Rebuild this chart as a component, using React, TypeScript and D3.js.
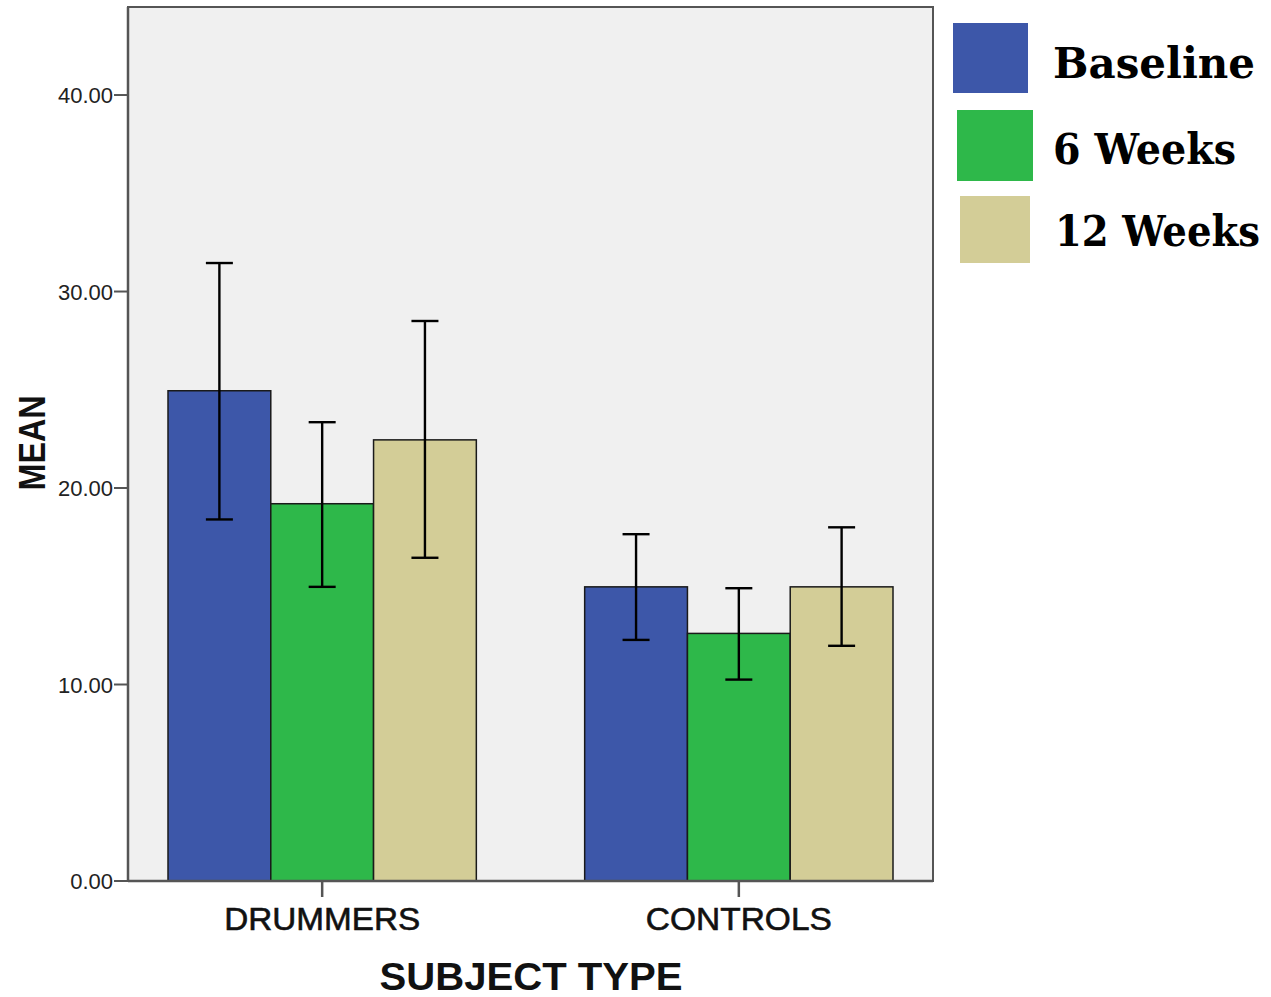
import React from "react";
import * as d3 from "d3";

const groups = ["DRUMMERS", "CONTROLS"];
const seriesNames = ["Baseline", "6 Weeks", "12 Weeks"];
const seriesColors = ["#3d57a9", "#2eb84a", "#d3cd97"];
const means = [
  [24.95, 19.2, 22.45],
  [14.97, 12.6, 14.97],
];
const upper = [
  [31.45, 23.35, 28.5],
  [17.65, 14.9, 18.0],
];
const lower = [
  [18.4, 14.97, 16.45],
  [12.27, 10.25, 11.97],
];
const yTicks = [0, 10, 20, 30, 40];

export default function App() {
  const left = 128, right = 933, top = 7, bottom = 881;
  const x0 = d3.scaleBand<string>().domain(groups).range([left, right]).paddingInner(0.26).paddingOuter(0.096);
  const x1 = d3.scaleBand<string>().domain(seriesNames).range([0, x0.bandwidth()]);
  const y = d3.scaleLinear().domain([0, 44.48]).range([bottom, top]);
  const cap = 13.5;
  const legendY = [[953, 23, 75, 70, 78], [957, 110, 76, 71, 164], [960, 196, 70, 67, 246]];
  const legendTextX = [1053, 1053, 1055];
  const legendTextLen = [202, 183, 205];
  return (
    <svg width={1271} height={997} style={{ position: "absolute", left: 0, top: 0 }} fontFamily="Arial, 'Liberation Sans', sans-serif">
      <rect x={0} y={0} width={1271} height={997} fill="#fff" />
      <rect x={left} y={top} width={right - left} height={bottom - top} fill="#f0f0f0" stroke="#555" strokeWidth={2} />
      {groups.map((g, gi) =>
        seriesNames.map((s, si) => {
          const bx = (x0(g) as number) + (x1(s) as number);
          return (
            <rect key={g + s} x={bx} y={y(means[gi][si])} width={x1.bandwidth()} height={bottom - y(means[gi][si])}
              fill={seriesColors[si]} stroke="#1a1a1a" strokeWidth={1.5} />
          );
        })
      )}
      {groups.map((g, gi) =>
        seriesNames.map((s, si) => {
          const cx = (x0(g) as number) + (x1(s) as number) + x1.bandwidth() / 2;
          return (
            <g key={"e" + g + s} stroke="#000" strokeWidth={2.4}>
              <line x1={cx} x2={cx} y1={y(upper[gi][si])} y2={y(lower[gi][si])} />
              <line x1={cx - cap} x2={cx + cap} y1={y(upper[gi][si])} y2={y(upper[gi][si])} />
              <line x1={cx - cap} x2={cx + cap} y1={y(lower[gi][si])} y2={y(lower[gi][si])} />
            </g>
          );
        })
      )}
      <line x1={left} x2={left} y1={top} y2={bottom} stroke="#555" strokeWidth={2.5} />
      <line x1={left} x2={right} y1={bottom} y2={bottom} stroke="#555" strokeWidth={2.5} />
      {yTicks.map((t) => (
        <g key={t}>
          <line x1={left - 14} x2={left} y1={y(t)} y2={y(t)} stroke="#555" strokeWidth={2} />
          <text x={left - 15} y={y(t) + 8} textAnchor="end" fontSize={22} fill="#222">{t.toFixed(2)}</text>
        </g>
      ))}
      {groups.map((g) => {
        const cx = (x0(g) as number) + x0.bandwidth() / 2;
        return (
          <g key={"t" + g}>
            <line x1={cx} x2={cx} y1={bottom} y2={bottom + 16} stroke="#555" strokeWidth={2.5} />
            <text x={cx} y={930} textAnchor="middle" fontSize={32} fill="#111" stroke="#111" strokeWidth={0.6}
              textLength={g === "DRUMMERS" ? 196 : 186} lengthAdjust="spacingAndGlyphs">{g}</text>
          </g>
        );
      })}
      <text x={531} y={990} textAnchor="middle" fontSize={39} fontWeight="bold" fill="#111" textLength={303} lengthAdjust="spacingAndGlyphs">SUBJECT TYPE</text>
      <text transform="translate(45,443) rotate(-90)" textAnchor="middle" fontSize={36} fontWeight="bold" fill="#111" textLength={95} lengthAdjust="spacingAndGlyphs">MEAN</text>
      {seriesNames.map((s, i) => (
        <g key={"l" + s}>
          <rect x={legendY[i][0]} y={legendY[i][1]} width={legendY[i][2]} height={legendY[i][3]} fill={seriesColors[i]} />
          <text transform={`translate(${legendTextX[i]},${legendY[i][4]}) scale(1,1.14)`} fontFamily="'DejaVu Serif', serif" fontWeight="bold" fontSize={38}
            fill="#000" textLength={legendTextLen[i]} lengthAdjust="spacingAndGlyphs">{s}</text>
        </g>
      ))}
    </svg>
  );
}
